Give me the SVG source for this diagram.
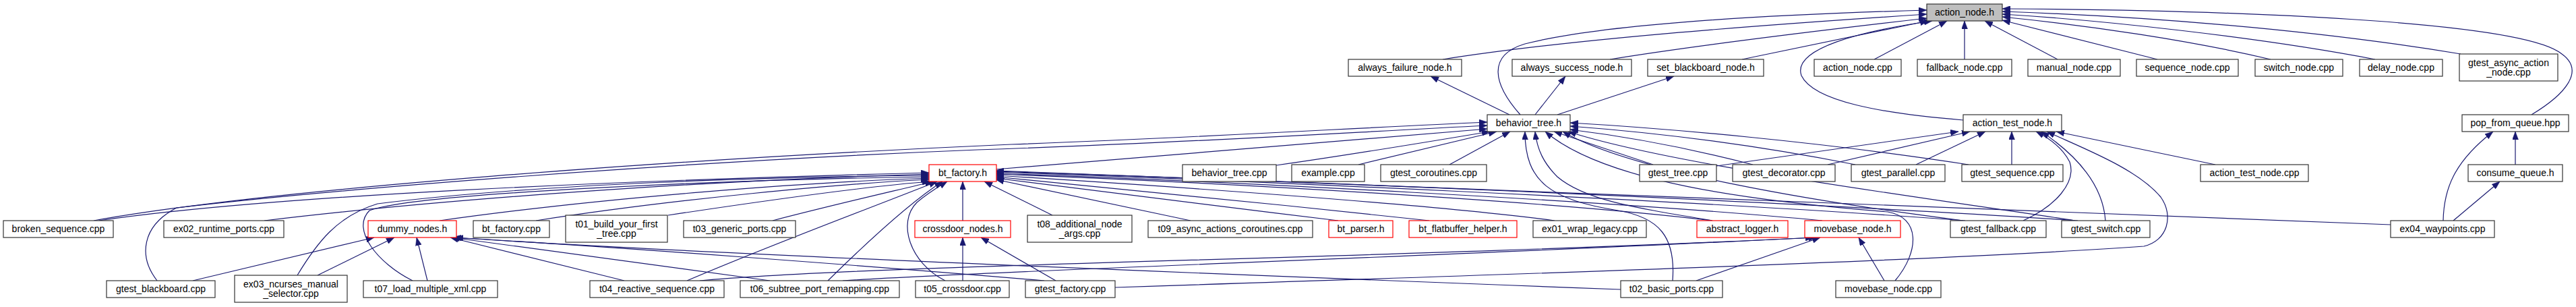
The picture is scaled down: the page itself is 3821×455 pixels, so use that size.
<svg xmlns="http://www.w3.org/2000/svg" width="3821" height="455" viewBox="0 0 3821 455">
<style>
.n rect{fill:#fff;stroke:#333;stroke-width:1.2}
.n.r rect{stroke:#f00}
.n.root rect{fill:#bfbfbf}
text{font-family:"Liberation Sans",Arial,sans-serif;font-size:14px;text-anchor:middle;fill:#000}
.e path{fill:none;stroke:#191970;stroke-width:1.2;marker-end:url(#ah)}
</style>
<defs>
<marker id="ah" viewBox="0 0 12 9" refX="12" refY="4.5" markerWidth="12" markerHeight="9" markerUnits="userSpaceOnUse" orient="auto"><path d="M0,0 L12,4.5 L0,9 z" fill="#191970" stroke="#191970" stroke-width="0.5"/></marker>
</defs>
<rect width="3821" height="455" fill="#fff"/>
<g id="edges" class="e">
<path d="M2140,88 C2330,58 2600,38 2858,21"/>
<path d="M2388,88 C2530,65 2700,45 2858,27"/>
<path d="M2584,88 L2860,31"/>
<path d="M2255,170 C2215,125 2205,82 2262,65 C2380,35 2620,22 2858,15"/>
<path d="M2780,88 L2888,31"/>
<path d="M2914,88 L2914,31"/>
<path d="M3052,88 L2944,31"/>
<path d="M3200,88 L2970,30"/>
<path d="M3368,88 C3250,60 3100,38 2970,25"/>
<path d="M3523,88 C3350,55 3120,30 2970,21"/>
<path d="M3650,80 C3420,42 3170,24 2970,17"/>
<path d="M3755,170 C3805,140 3835,105 3800,80 C3740,30 3300,15 2970,13"/>
<path d="M2912,178 C2790,168 2690,150 2672,112 C2658,72 2760,46 2866,31"/>
<path d="M2239,170 L2122,113"/>
<path d="M2277,170 L2322,113"/>
<path d="M2310,170 L2483,113"/>
<path d="M139,327 C400,280 1000,236 1500,214 C1800,203 2000,190 2206,181"/>
<path d="M233,416 C205,380 210,335 262,308 C500,280 1000,240 1450,222 C1800,210 2000,196 2206,186"/>
<path d="M1477,251 C1650,236 1900,214 2206,191"/>
<path d="M1893,245 C2000,230 2120,210 2210,195"/>
<path d="M2015,244 L2220,195"/>
<path d="M2150,244 L2240,195"/>
<path d="M2481,416 C2486,350 2460,322 2400,312 C2300,296 2262,270 2262,195"/>
<path d="M2540,327 C2420,307 2350,296 2310,262 C2290,242 2280,222 2277,195"/>
<path d="M2811,416 C2848,372 2848,322 2800,314 C2600,298 2380,270 2292,195"/>
<path d="M2452,244 L2305,195"/>
<path d="M2600,244 C2500,218 2410,202 2329,192"/>
<path d="M2752,244 C2600,214 2450,196 2329,187"/>
<path d="M2920,244 C2700,210 2470,190 2329,182"/>
<path d="M2912,327 C2700,300 2420,255 2318,195"/>
<path d="M3078,327 C2850,292 2480,245 2326,195"/>
<path d="M2546,246 L2905,195"/>
<path d="M2711,244 L2922,195"/>
<path d="M2842,244 L2945,195"/>
<path d="M2984,244 L2984,195"/>
<path d="M3001,327 C3050,305 3080,270 3070,240 C3060,220 3040,205 3020,195"/>
<path d="M3123,327 C3120,285 3095,240 3028,195"/>
<path d="M1654,426 C2300,405 2900,385 3180,365 C3215,357 3225,320 3205,292 C3170,250 3090,220 3036,195"/>
<path d="M3286,244 L3050,195"/>
<path d="M3731,244 L3731,195"/>
<path d="M3624,327 C3625,280 3640,240 3698,195"/>
<path d="M3639,327 L3708,269"/>
<path d="M147,327 C400,290 900,268 1378,256"/>
<path d="M392,327 C700,290 1100,266 1378,258"/>
<path d="M441,408 C470,360 500,320 560,302 C800,272 1150,262 1378,260"/>
<path d="M612,416 C560,390 520,340 548,312 C620,285 1100,266 1378,262"/>
<path d="M652,327 C900,292 1200,270 1378,264"/>
<path d="M795,327 C1000,295 1250,272 1378,266"/>
<path d="M991,319 C1150,295 1300,275 1380,269"/>
<path d="M1146,327 C1250,300 1340,280 1384,269"/>
<path d="M1019,416 C1150,360 1300,305 1390,269"/>
<path d="M1228,416 C1290,355 1350,300 1398,269"/>
<path d="M1402,416 C1350,390 1330,330 1360,300 C1378,285 1392,277 1405,269"/>
<path d="M1428,327 L1428,269"/>
<path d="M1561,319 L1460,269"/>
<path d="M1766,327 L1477,266"/>
<path d="M1985,327 C1800,305 1600,280 1477,264"/>
<path d="M2120,327 C1900,303 1620,276 1477,262"/>
<path d="M2306,327 C2100,300 1700,274 1477,260"/>
<path d="M2540,327 C2300,298 1800,270 1477,258"/>
<path d="M2703,327 C2400,298 1800,268 1477,257"/>
<path d="M2915,327 C2500,296 1800,266 1477,255"/>
<path d="M3082,327 C2600,295 1800,264 1477,254"/>
<path d="M3546,333 C3200,315 2400,285 1477,253"/>
<path d="M286,416 L555,352"/>
<path d="M471,408 L585,352"/>
<path d="M634,416 L618,352"/>
<path d="M926,416 L668,352"/>
<path d="M1142,416 L670,352"/>
<path d="M1549,416 C1300,395 900,365 672,352"/>
<path d="M2404,429 C1900,410 1000,375 675,352"/>
<path d="M1428,416 L1428,352"/>
<path d="M1566,416 L1455,352"/>
<path d="M2795,416 L2757,352"/>
<path d="M2516,416 L2700,352"/>
<path d="M1038,416 C1300,392 2000,385 2695,352"/>
<path d="M1250,416 C1500,400 2100,382 2690,352"/>
</g>
<g id="action_node_h" class="n root"><rect x="2858" y="6" width="112" height="25"/><text x="2914" y="23">action_node.h</text></g>
<g id="always_failure_node_h" class="n"><rect x="2000" y="88" width="168" height="25"/><text x="2084" y="105">always_failure_node.h</text></g>
<g id="always_success_node_h" class="n"><rect x="2243" y="88" width="177" height="25"/><text x="2331.5" y="105">always_success_node.h</text></g>
<g id="set_blackboard_node_h" class="n"><rect x="2444" y="88" width="172" height="25"/><text x="2530" y="105">set_blackboard_node.h</text></g>
<g id="action_node_cpp" class="n"><rect x="2691" y="88" width="129" height="25"/><text x="2755.5" y="105">action_node.cpp</text></g>
<g id="fallback_node_cpp" class="n"><rect x="2844" y="88" width="140" height="25"/><text x="2914" y="105">fallback_node.cpp</text></g>
<g id="manual_node_cpp" class="n"><rect x="3008" y="88" width="137" height="25"/><text x="3076.5" y="105">manual_node.cpp</text></g>
<g id="sequence_node_cpp" class="n"><rect x="3169" y="88" width="151" height="25"/><text x="3244.5" y="105">sequence_node.cpp</text></g>
<g id="switch_node_cpp" class="n"><rect x="3345" y="88" width="130" height="25"/><text x="3410" y="105">switch_node.cpp</text></g>
<g id="delay_node_cpp" class="n"><rect x="3500" y="88" width="123" height="25"/><text x="3561.5" y="105">delay_node.cpp</text></g>
<g id="gtest_async_action_node_cpp" class="n"><rect x="3648" y="80" width="146" height="40"/><text x="3721" y="98">gtest_async_action</text><text x="3721" y="112">_node.cpp</text></g>
<g id="behavior_tree_h" class="n"><rect x="2206" y="170" width="123" height="25"/><text x="2267.5" y="187">behavior_tree.h</text></g>
<g id="action_test_node_h" class="n"><rect x="2912" y="170" width="146" height="25"/><text x="2985" y="187">action_test_node.h</text></g>
<g id="pop_from_queue_hpp" class="n"><rect x="3652" y="170" width="158" height="25"/><text x="3731" y="187">pop_from_queue.hpp</text></g>
<g id="bt_factory_h" class="n r"><rect x="1378" y="244" width="100" height="25"/><text x="1428" y="261">bt_factory.h</text></g>
<g id="behavior_tree_cpp" class="n"><rect x="1754" y="244" width="139" height="25"/><text x="1823.5" y="261">behavior_tree.cpp</text></g>
<g id="example_cpp" class="n"><rect x="1916" y="244" width="108" height="25"/><text x="1970" y="261">example.cpp</text></g>
<g id="gtest_coroutines_cpp" class="n"><rect x="2048" y="244" width="157" height="25"/><text x="2126.5" y="261">gtest_coroutines.cpp</text></g>
<g id="gtest_tree_cpp" class="n"><rect x="2432" y="244" width="114" height="25"/><text x="2489" y="261">gtest_tree.cpp</text></g>
<g id="gtest_decorator_cpp" class="n"><rect x="2570" y="244" width="152" height="25"/><text x="2646" y="261">gtest_decorator.cpp</text></g>
<g id="gtest_parallel_cpp" class="n"><rect x="2746" y="244" width="139" height="25"/><text x="2815.5" y="261">gtest_parallel.cpp</text></g>
<g id="gtest_sequence_cpp" class="n"><rect x="2910" y="244" width="150" height="25"/><text x="2985" y="261">gtest_sequence.cpp</text></g>
<g id="action_test_node_cpp" class="n"><rect x="3264" y="244" width="160" height="25"/><text x="3344" y="261">action_test_node.cpp</text></g>
<g id="consume_queue_h" class="n"><rect x="3661" y="244" width="140" height="25"/><text x="3731" y="261">consume_queue.h</text></g>
<g id="broken_sequence_cpp" class="n"><rect x="5" y="327" width="163" height="25"/><text x="86.5" y="344">broken_sequence.cpp</text></g>
<g id="ex02_runtime_ports_cpp" class="n"><rect x="243" y="327" width="178" height="25"/><text x="332" y="344">ex02_runtime_ports.cpp</text></g>
<g id="dummy_nodes_h" class="n r"><rect x="546" y="327" width="131" height="25"/><text x="611.5" y="344">dummy_nodes.h</text></g>
<g id="bt_factory_cpp" class="n"><rect x="702" y="327" width="113" height="25"/><text x="758.5" y="344">bt_factory.cpp</text></g>
<g id="t01_build_your_first_tree_cpp" class="n"><rect x="839" y="319" width="151" height="40"/><text x="914.5" y="337">t01_build_your_first</text><text x="914.5" y="351">_tree.cpp</text></g>
<g id="t03_generic_ports_cpp" class="n"><rect x="1014" y="327" width="166" height="25"/><text x="1097" y="344">t03_generic_ports.cpp</text></g>
<g id="crossdoor_nodes_h" class="n r"><rect x="1357" y="327" width="142" height="25"/><text x="1428" y="344">crossdoor_nodes.h</text></g>
<g id="t08_additional_node_args_cpp" class="n"><rect x="1524" y="319" width="155" height="40"/><text x="1601.5" y="337">t08_additional_node</text><text x="1601.5" y="351">_args.cpp</text></g>
<g id="t09_async_actions_coroutines_cpp" class="n"><rect x="1703" y="327" width="244" height="25"/><text x="1825" y="344">t09_async_actions_coroutines.cpp</text></g>
<g id="bt_parser_h" class="n r"><rect x="1971" y="327" width="95" height="25"/><text x="2018.5" y="344">bt_parser.h</text></g>
<g id="bt_flatbuffer_helper_h" class="n r"><rect x="2090" y="327" width="160" height="25"/><text x="2170" y="344">bt_flatbuffer_helper.h</text></g>
<g id="ex01_wrap_legacy_cpp" class="n"><rect x="2274" y="327" width="168" height="25"/><text x="2358" y="344">ex01_wrap_legacy.cpp</text></g>
<g id="abstract_logger_h" class="n r"><rect x="2517" y="327" width="135" height="25"/><text x="2584.5" y="344">abstract_logger.h</text></g>
<g id="movebase_node_h" class="n r"><rect x="2677" y="327" width="142" height="25"/><text x="2748" y="344">movebase_node.h</text></g>
<g id="gtest_fallback_cpp" class="n"><rect x="2893" y="327" width="142" height="25"/><text x="2964" y="344">gtest_fallback.cpp</text></g>
<g id="gtest_switch_cpp" class="n"><rect x="3058" y="327" width="131" height="25"/><text x="3123.5" y="344">gtest_switch.cpp</text></g>
<g id="ex04_waypoints_cpp" class="n"><rect x="3546" y="327" width="154" height="25"/><text x="3623" y="344">ex04_waypoints.cpp</text></g>
<g id="gtest_blackboard_cpp" class="n"><rect x="158" y="416" width="161" height="25"/><text x="238.5" y="433">gtest_blackboard.cpp</text></g>
<g id="ex03_ncurses_manual_selector_cpp" class="n"><rect x="348" y="408" width="167" height="40"/><text x="431.5" y="426">ex03_ncurses_manual</text><text x="431.5" y="440">_selector.cpp</text></g>
<g id="t07_load_multiple_xml_cpp" class="n"><rect x="539" y="416" width="199" height="25"/><text x="638.5" y="433">t07_load_multiple_xml.cpp</text></g>
<g id="t04_reactive_sequence_cpp" class="n"><rect x="875" y="416" width="199" height="25"/><text x="974.5" y="433">t04_reactive_sequence.cpp</text></g>
<g id="t06_subtree_port_remapping_cpp" class="n"><rect x="1098" y="416" width="236" height="25"/><text x="1216" y="433">t06_subtree_port_remapping.cpp</text></g>
<g id="t05_crossdoor_cpp" class="n"><rect x="1358" y="416" width="139" height="25"/><text x="1427.5" y="433">t05_crossdoor.cpp</text></g>
<g id="gtest_factory_cpp" class="n"><rect x="1521" y="416" width="133" height="25"/><text x="1587.5" y="433">gtest_factory.cpp</text></g>
<g id="t02_basic_ports_cpp" class="n"><rect x="2404" y="416" width="151" height="25"/><text x="2479.5" y="433">t02_basic_ports.cpp</text></g>
<g id="movebase_node_cpp" class="n"><rect x="2723" y="416" width="156" height="25"/><text x="2801" y="433">movebase_node.cpp</text></g>
</svg>
